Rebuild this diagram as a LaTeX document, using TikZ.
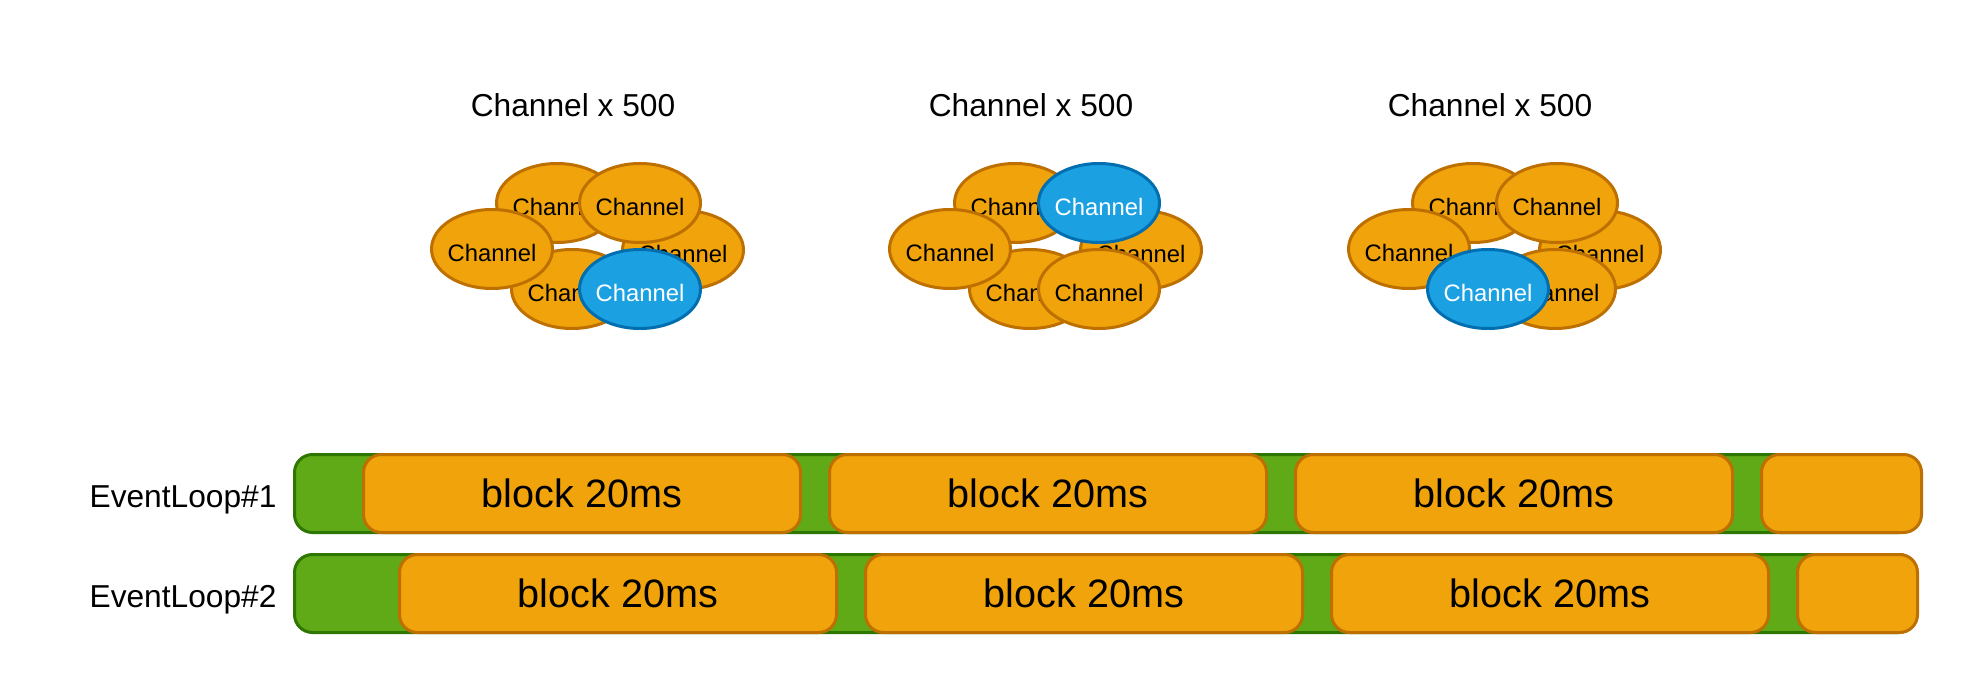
\documentclass[tikz,border=0pt]{standalone}
\usepackage{fontspec}
\setmainfont{Liberation Sans}
\usetikzlibrary{shapes.geometric}
\definecolor{orangefill}{HTML}{F0A30A}
\definecolor{orangeline}{HTML}{BD7000}
\definecolor{bluefill}{HTML}{1BA1E2}
\definecolor{blueline}{HTML}{006EAF}
\definecolor{greenfill}{HTML}{60A917}
\definecolor{greenline}{HTML}{2D7600}
\tikzstyle{chan}=[ellipse, draw=orangeline, fill=orangefill, line width=3pt, minimum width=121pt, minimum height=79pt, inner sep=0pt, inner xsep=-3pt, text height=25pt, text depth=0pt, font=\fontsize{23.8}{28}\selectfont]
\tikzstyle{hotchan}=[chan, draw=blueline, fill=bluefill, text=white]
\tikzstyle{title}=[font=\fontsize{31.7}{38}\selectfont]
\tikzstyle{looplabel}=[label distance=13pt, yshift=-6pt, font=\fontsize{31.7}{38}\selectfont]
\tikzstyle{loopbar}=[draw=greenline, fill=greenfill, line width=3pt, rounded corners=18pt, minimum width=1622pt, minimum height=78pt, inner sep=0pt]
\tikzstyle{blockbox}=[draw=orangeline, fill=orangefill, line width=3pt, rounded corners=18pt, minimum width=437pt, minimum height=78pt, inner sep=0pt, font=\fontsize{39.6}{46}\selectfont]

\begin{document}
\begin{tikzpicture}[x=1pt, y=-1pt]
        \useasboundingbox (0,0) rectangle (1964,688);
        % channel groups
        \node[title] (T1) at (573, 105) {Channel x 500};
        \node[chan] (C1a) at (557, 203) {Channel};
        \node[chan] (C1c) at (683, 250) {Channel};
        \node[chan] (C1e) at (572, 289) {Channel};
        \node[chan] (C1d) at (492, 249) {Channel};
        \node[chan] (C1b) at (640, 203) {Channel};
        \node[hotchan] (C1f) at (640, 289) {Channel};

        \node[title] (T2) at (1031, 105) {Channel x 500};
        \node[chan] (C2a) at (1015, 203) {Channel};
        \node[chan] (C2c) at (1141, 250) {Channel};
        \node[chan] (C2e) at (1030, 289) {Channel};
        \node[chan] (C2d) at (950, 249) {Channel};
        \node[hotchan] (C2b) at (1099, 203) {Channel};
        \node[chan] (C2f) at (1099, 289) {Channel};

        \node[title] (T3) at (1490, 105) {Channel x 500};
        \node[chan] (C3a) at (1473, 203) {Channel};
        \node[chan] (C3c) at (1600, 250) {Channel};
        \node[chan] (C3f) at (1555, 289) {Channel};
        \node[chan] (C3d) at (1409, 249) {Channel};
        \node[chan] (C3b) at (1557, 203) {Channel};
        \node[hotchan] (C3e) at (1488, 289) {Channel};

        % event loops
        \node[loopbar, label={[looplabel]left:EventLoop\#1}] (EL1) at (1105.5, 493.5) {};
        \node[blockbox] (B11) at (582, 493.5) {block 20ms};
        \node[blockbox] (B12) at (1048, 493.5) {block 20ms};
        \node[blockbox] (B13) at (1514, 493.5) {block 20ms};
        \node[blockbox, minimum width=160pt] (B14) at (1841.5, 493.5) {};

        \node[loopbar, label={[looplabel]left:EventLoop\#2}] (EL2) at (1105.5, 593.5) {};
        \node[blockbox] (B21) at (618, 593.5) {block 20ms};
        \node[blockbox] (B22) at (1084, 593.5) {block 20ms};
        \node[blockbox] (B23) at (1550, 593.5) {block 20ms};
        \node[blockbox, minimum width=120pt] (B24) at (1857.5, 593.5) {};
    \end{tikzpicture}
\end{document}
